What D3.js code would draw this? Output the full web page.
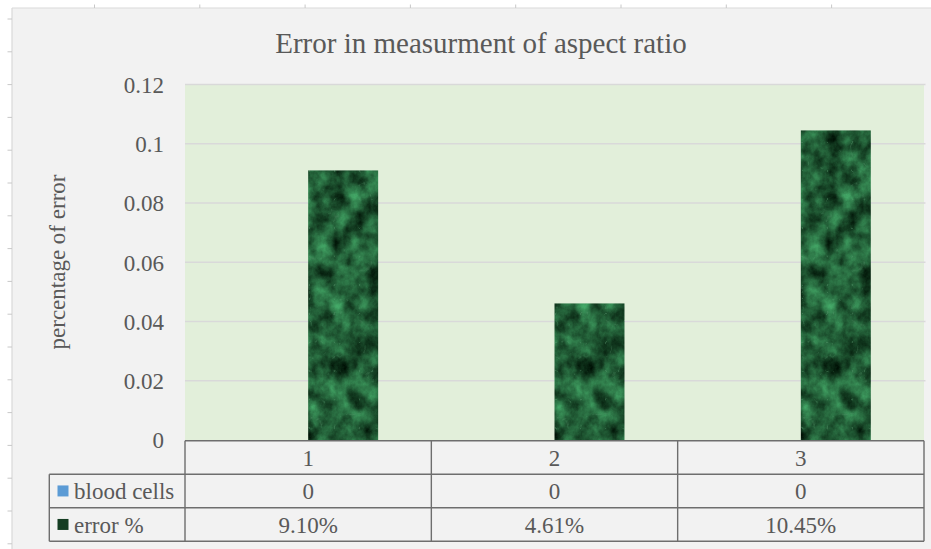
<!DOCTYPE html>
<html>
<head>
<meta charset="utf-8">
<script src="https://cdn.jsdelivr.net/npm/d3@7"></script>
<style>
  html, body { margin: 0; padding: 0; background: #ffffff; }
  svg { display: block; }
  text { font-family: "Liberation Serif", "Times New Roman", serif; fill: #595959; }
</style>
</head>
<body>
<svg id="chart" width="931" height="549"></svg>
<script>
// ---- data ----
const categories = ["1", "2", "3"];
const seriesNames = ["blood cells", "error %"];
const bloodCells = [0, 0, 0];
const errorPct = [0.091, 0.0461, 0.1045];
const yTicks = [0, 0.02, 0.04, 0.06, 0.08, 0.1, 0.12];
const titleText = "Error in measurment of aspect ratio";
const yAxisTitle = "percentage of error";

const seriesValues = [bloodCells, errorPct];
const legendColors = ["#5b9bd5", "#143d22"];
const cellFormats = [d3.format("d"), d3.format(".2%")];

const svg = d3.select("#chart");
const W = 931, H = 549;

// ---- layout ----
const area = { x: 12, y: 8, w: W - 12, h: H - 8 };
const plot = { left: 185, right: 924, top: 84.5, bottom: 440 };
const rowH = 33.5;
const tableLeft = 49.3;

// ---- defs: dark green marble texture for the bars ----
const defs = svg.append("defs");
const filt = defs.append("filter").attr("id", "marble")
  .attr("x", 0).attr("y", 0).attr("width", "100%").attr("height", "100%")
  .attr("color-interpolation-filters", "sRGB");
filt.append("feTurbulence").attr("type", "fractalNoise")
  .attr("baseFrequency", "0.055 0.045").attr("numOctaves", 5).attr("seed", 11).attr("result", "noise");
filt.append("feColorMatrix").attr("in", "noise").attr("type", "matrix")
  .attr("values",
    "0.36 0 0 0 -0.05 " +
    "0.80 0 0 0 -0.04 " +
    "0.52 0 0 0 -0.05 " +
    "0 0 0 0 1")
  .attr("result", "base");
// thin pale veins
filt.append("feTurbulence").attr("type", "turbulence")
  .attr("baseFrequency", "0.04 0.035").attr("numOctaves", 3).attr("seed", 4).attr("result", "turb");
filt.append("feColorMatrix").attr("in", "turb").attr("type", "matrix")
  .attr("values",
    "0 0 0 0 0.36 " +
    "0 0 0 0 0.60 " +
    "0 0 0 0 0.44 " +
    "-5 0 0 0 0.38")
  .attr("result", "veins");
filt.append("feComposite").attr("in", "veins").attr("in2", "base").attr("operator", "over").attr("result", "mix");
filt.append("feComposite").attr("in", "mix").attr("in2", "SourceGraphic").attr("operator", "in");

// ---- background with ruler marks ----
svg.append("rect").attr("x", 0).attr("y", 0).attr("width", W).attr("height", H).attr("fill", "#ffffff");
svg.append("rect").attr("x", area.x).attr("y", area.y).attr("width", area.w).attr("height", area.h)
  .attr("fill", "#f2f2f2");
svg.append("line").attr("x1", area.x).attr("x2", area.x).attr("y1", area.y).attr("y2", H)
  .attr("stroke", "#d9d9d9").attr("stroke-width", 1.2);
svg.append("line").attr("x1", area.x).attr("x2", W).attr("y1", area.y).attr("y2", area.y)
  .attr("stroke", "#d9d9d9").attr("stroke-width", 1.2);
const ruler = svg.append("g").attr("stroke", "#c8c8c8").attr("stroke-width", 1);
d3.range(94.5, 900, 105.3).forEach(x => {
  ruler.append("line").attr("x1", x).attr("x2", x).attr("y1", 4.5).attr("y2", area.y);
});
d3.range(19, 549, 32.8).forEach(y => {
  ruler.append("line").attr("x1", 7.5).attr("x2", area.x).attr("y1", y).attr("y2", y);
});

// ---- scales ----
const x0 = d3.scaleBand().domain(categories).range([plot.left, plot.right]).padding(0);
const x1 = d3.scaleBand().domain(seriesNames).range([0, x0.bandwidth()])
  .paddingInner(0).paddingOuter(0.76);
const y = d3.scaleLinear().domain([0, 0.12]).range([plot.bottom, plot.top]);

// ---- plot area ----
svg.append("rect").attr("x", plot.left).attr("y", plot.top)
  .attr("width", plot.right - plot.left).attr("height", plot.bottom - plot.top)
  .attr("fill", "#e2efda");

svg.append("g").selectAll("line").data(yTicks.filter(t => t > 0)).join("line")
  .attr("x1", plot.left).attr("x2", plot.right + 1.5)
  .attr("y1", d => y(d)).attr("y2", d => y(d))
  .attr("stroke", "#d9d9d9").attr("stroke-width", 1.3);

// ---- y axis ----
const yAxis = d3.axisLeft(y).tickValues(yTicks).tickSize(0).tickPadding(21)
  .tickFormat(d => String(+d.toFixed(2)));
const gy = svg.append("g").attr("transform", `translate(${plot.left},0)`).call(yAxis);
gy.select(".domain").remove();
gy.selectAll("text").attr("font-size", 23).attr("fill", "#595959")
  .style("font-family", "'Liberation Serif', serif").attr("dy", "0.34em");

// ---- bars ----
const groups = svg.append("g").selectAll("g").data(categories).join("g")
  .attr("transform", d => `translate(${x0(d)},0)`);
groups.selectAll("rect")
  .data((c, i) => seriesNames.map((s, k) => ({ s, k, v: seriesValues[k][i] })))
  .join("rect")
  .attr("x", d => x1(d.s))
  .attr("width", x1.bandwidth())
  .attr("y", d => y(d.v))
  .attr("height", d => y(0) - y(d.v))
  .attr("fill", d => d.k === 1 ? "#1e5a34" : legendColors[d.k])
  .attr("filter", d => d.k === 1 ? "url(#marble)" : null);

// ---- title & axis title ----
svg.append("text").attr("x", 481).attr("y", 52.5).attr("text-anchor", "middle")
  .attr("font-size", 29).text(titleText);
svg.append("text").attr("transform", `translate(65,262) rotate(-90)`)
  .attr("text-anchor", "middle").attr("font-size", 23).text(yAxisTitle);

// ---- data table ----
const tbl = svg.append("g");
const lineColor = "#6e6e6e";
const tTop = plot.bottom + 0.7;
tbl.append("line").attr("x1", plot.left).attr("x2", plot.right).attr("y1", tTop).attr("y2", tTop);
[1, 2, 3].forEach(r => {
  tbl.append("line").attr("x1", tableLeft)
    .attr("x2", plot.right).attr("y1", tTop + r * rowH).attr("y2", tTop + r * rowH);
});
tbl.append("line").attr("x1", tableLeft).attr("x2", tableLeft).attr("y1", tTop + rowH).attr("y2", tTop + 3 * rowH);
categories.forEach(c => {
  tbl.append("line").attr("x1", x0(c)).attr("x2", x0(c)).attr("y1", tTop).attr("y2", tTop + 3 * rowH);
});
tbl.append("line").attr("x1", plot.right).attr("x2", plot.right).attr("y1", tTop).attr("y2", tTop + 3 * rowH);
tbl.selectAll("line").attr("stroke", lineColor).attr("stroke-width", 1.4);

// header row
tbl.selectAll("text.hdr").data(categories).join("text").attr("class", "hdr")
  .attr("x", d => x0(d) + x0.bandwidth() / 2).attr("y", tTop + rowH / 2)
  .attr("dy", "0.35em").attr("text-anchor", "middle").attr("font-size", 23).text(d => d);

// series rows
seriesNames.forEach((s, k) => {
  const cy = tTop + (k + 1.5) * rowH;
  tbl.append("rect").attr("x", 57.5).attr("y", cy - 5.5).attr("width", 11).attr("height", 11)
    .attr("fill", legendColors[k]);
  tbl.append("text").attr("x", 74).attr("y", cy).attr("dy", "0.35em")
    .attr("font-size", 23).text(s);
  tbl.selectAll(`text.v${k}`).data(categories).join("text").attr("class", `v${k}`)
    .attr("x", d => x0(d) + x0.bandwidth() / 2).attr("y", cy).attr("dy", "0.35em")
    .attr("text-anchor", "middle").attr("font-size", 23)
    .text((d, i) => cellFormats[k](seriesValues[k][i]));
});
</script>
</body>
</html>
